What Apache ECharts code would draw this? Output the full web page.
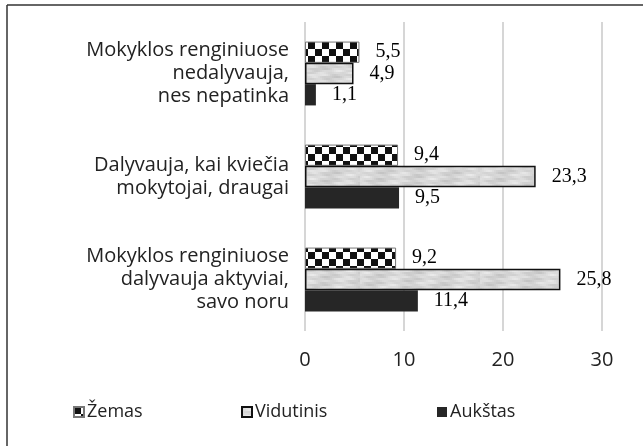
<!DOCTYPE html>
<html>
<head>
<meta charset="utf-8">
<script src="https://cdn.jsdelivr.net/npm/echarts@6/dist/echarts.min.js"></script>
<style>
  html, body { margin: 0; padding: 0; background: #fff; }
  #main { width: 643px; height: 446px; }
</style>
</head>
<body>
<div id="main"></div>
<script>
const categories = [
  'Mokyklos renginiuose\nnedalyvauja,\nnes nepatinka',
  'Dalyvauja, kai kviečia\nmokytojai, draugai',
  'Mokyklos renginiuose\ndalyvauja aktyviai,\nsavo noru'
]
const seriesNames = ['Žemas', 'Vidutinis', 'Aukštas']
const zemas = [5.5, 9.4, 9.2]
const vidutinis = [4.9, 23.3, 25.8]
const aukstas = [1.1, 9.5, 11.4]
const xTicks = [0, 10, 20, 30]

// checker pattern for "Žemas"
function checkerPattern () {
  const c = document.createElement('canvas')
  const s = 7
  c.width = s * 2
  c.height = s * 2
  const ctx = c.getContext('2d')
  ctx.fillStyle = '#fff'
  ctx.fillRect(0, 0, s * 2, s * 2)
  ctx.fillStyle = '#111'
  ctx.fillRect(0, 0, s, s)
  ctx.fillRect(s, s, s, s)
  return c
}

// light grey smudged texture for "Vidutinis"
function greyPattern () {
  const c = document.createElement('canvas')
  c.width = 120
  c.height = 24
  const ctx = c.getContext('2d')
  ctx.fillStyle = '#e2e2e2'
  ctx.fillRect(0, 0, 120, 24)
  for (let x = 0; x < 120; x += 2) {
    for (let y = 0; y < 24; y += 2) {
      const v = Math.sin(x * 0.13 + y * 0.5) * Math.cos(x * 0.05 - y * 0.37) + Math.sin(x * 0.41 - y * 0.9) * 0.35
      const g = Math.round(214 + v * 15)
      ctx.fillStyle = 'rgb(' + g + ',' + g + ',' + g + ')'
      ctx.fillRect(x, y, 2, 2)
    }
  }
  return c
}

const chart = echarts.init(document.getElementById('main'), null, { renderer: 'canvas' })

const labelOption = {
  show: true,
  position: 'right',
  distance: 16,
  fontFamily: 'Liberation Serif',
  fontSize: 20,
  color: '#000',
  formatter: p => String(p.value).replace('.', ',')
}

const legendText = { fontFamily: 'Open Sans', fontSize: 18, color: '#222', padding: [0, 0, 0, -2] }

const legendBase = { top: 398, itemWidth: 10, itemHeight: 10, icon: 'rect', textStyle: legendText }

const option = {
  animation: false,
  backgroundColor: '#fff',
  grid: { left: 305, right: 41, top: 22, bottom: 115, containLabel: false },
  xAxis: {
    type: 'value',
    min: 0,
    max: 30,
    interval: 10,
    axisLine: { show: false },
    axisTick: { show: false },
    axisLabel: {
      margin: 19,
      fontFamily: 'Open Sans',
      fontSize: 20,
      color: '#222',
      formatter: v => (xTicks.indexOf(v) >= 0 ? String(v) : '')
    },
    splitLine: { show: true, lineStyle: { color: '#d6d6d6', width: 2 } }
  },
  yAxis: {
    type: 'category',
    inverse: true,
    data: categories,
    axisLine: { show: false },
    axisTick: { show: false },
    axisLabel: {
      margin: 16,
      align: 'right',
      fontFamily: 'Open Sans',
      fontSize: 20,
      lineHeight: 23,
      color: '#222'
    }
  },
  legend: [
    Object.assign({ left: 68, data: [seriesNames[0]] }, legendBase),
    Object.assign({ left: 236, data: [seriesNames[1]] }, legendBase),
    Object.assign({ left: 432, data: [seriesNames[2]] }, legendBase)
  ],
  graphic: [
    { type: 'line', shape: { x1: 7, y1: 5, x2: 643, y2: 5 }, style: { stroke: '#333', lineWidth: 1.5 } },
    { type: 'line', shape: { x1: 7, y1: 5, x2: 7, y2: 446 }, style: { stroke: '#333', lineWidth: 1.5 } }
  ],
  series: [
    {
      name: seriesNames[0],
      type: 'bar',
      barGap: 0,
      barCategoryGap: '38%',
      data: zemas,
      itemStyle: { color: { image: checkerPattern(), repeat: 'repeat' }, borderColor: '#777', borderWidth: 1 },
      label: labelOption
    },
    {
      name: seriesNames[1],
      type: 'bar',
      data: vidutinis,
      itemStyle: { color: { image: greyPattern(), repeat: 'repeat' }, borderColor: '#111', borderWidth: 1.5 },
      label: labelOption
    },
    {
      name: seriesNames[2],
      type: 'bar',
      data: aukstas,
      itemStyle: { color: '#262626' },
      label: labelOption
    }
  ]
}

chart.setOption(option)
</script>
</body>
</html>
